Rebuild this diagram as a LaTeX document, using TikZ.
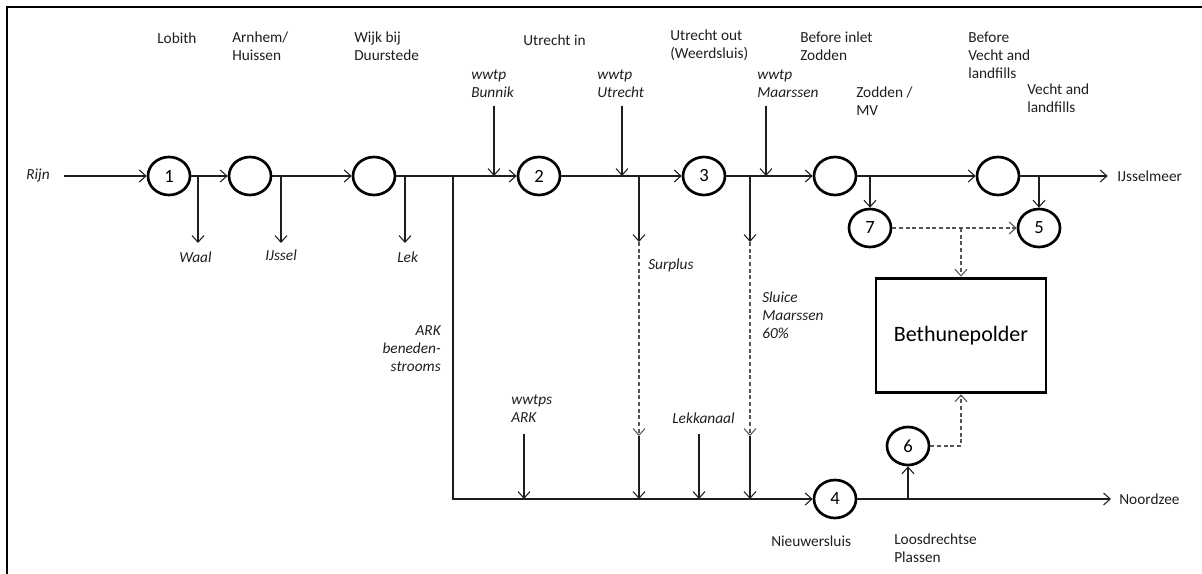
\documentclass[tikz,border=0pt]{standalone}
\usepackage{fontspec}
\setmainfont{Carlito}
\usetikzlibrary{arrows.meta,positioning,shapes.geometric}
\definecolor{inkgray}{RGB}{30,30,30}
\definecolor{dashgray}{RGB}{85,85,85}
\tikzset{
  station/.style={draw,ellipse,line width=2pt,minimum width=31.5pt,minimum height=28.5pt,
    inner sep=0pt,font=\fontsize{14}{16}\selectfont},
  polder/.style={draw,line width=2.2pt,minimum width=127.5pt,minimum height=86pt,
    inner sep=0pt,font=\fontsize{16.5}{19}\selectfont},
  lbl/.style={align=left,anchor=north west,inner sep=0pt,text=inkgray,
    font=\fontsize{11.5}{13.5}\selectfont},
  ilbl/.style={lbl,font=\fontsize{11.5}{13.5}\selectfont\itshape},
  flow/.style={-{Straight Barb[length=5pt,width=9pt]},line width=0.8pt,inkgray},
  seep/.style={flow,dash pattern=on 3pt off 2pt,dashgray},
  frame/.style={line width=2pt}
}

\begin{document}
\begin{tikzpicture}[x=0.75pt,y=-0.75pt]
  \useasboundingbox (0,0) rectangle (1202,574);
  \draw[frame] (7,574) -- (7,7) -- (1202,7);

  % stations on the main river
  \node[station] (lobith) at (169,176) {1};
  \node[station] (arnhem) at (250,176) {};
  \node[station] (wijk) at (374,176) {};
  \node[station] (utrin) at (539,176) {2};
  \node[station] (utrout) at (704,176) {3};
  \node[station] (zodden) at (835,176) {};
  \node[station] (vecht) at (998,176) {};
  \node[station] (seven) at (870,228) {7};
  \node[station] (five) at (1039,228) {5};
  \node[station] (nieuw) at (835,499) {4};
  \node[station] (six) at (908,446) {6};
  \node[polder] (bethune) at (961,335.5) {Bethunepolder};

  % location labels
  \node[lbl] at (157,33) {Lobith};
  \node[lbl] at (232,32) {Arnhem/\\Huissen};
  \node[lbl] at (354,32) {Wijk bij\\Duurstede};
  \node[lbl] at (523,35) {Utrecht in};
  \node[lbl] at (670,30) {Utrecht out\\(Weerdsluis)};
  \node[lbl] at (800,32) {Before inlet\\Zodden};
  \node[lbl] at (968,32) {Before\\Vecht and\\landfills};
  \node[lbl] at (856,87) {Zodden /\\MV};
  \node[lbl] at (1027,84) {Vecht and\\landfills};
  \node[lbl] at (771,536) {Nieuwersluis};
  \node[lbl] at (894,534) {Loosdrechtse\\Plassen};

  % in- and outflows
  \node[ilbl,anchor=east] (rijn) at (50,176) {Rijn};
  \node[lbl,anchor=west] (ijmeer) at (1117,176) {IJsselmeer};
  \node[lbl,anchor=west] (noordzee) at (1119,499) {Noordzee};
  \node[ilbl] at (179,252) {Waal};
  \node[ilbl] at (265,250) {IJssel};
  \node[ilbl] at (397,252) {Lek};
  \node[ilbl] at (471,70) {wwtp\\Bunnik};
  \node[ilbl] at (597,70) {wwtp\\Utrecht};
  \node[ilbl] at (757,70) {wwtp\\Maarssen};
  \node[ilbl] at (648,259) {Surplus};
  \node[ilbl] at (762,292) {Sluice\\Maarssen\\60\%};
  \node[ilbl,align=right,anchor=north east] at (441,325) {ARK\\beneden-\\strooms};
  \node[ilbl] at (511,395) {wwtps\\ARK};
  \node[ilbl] at (672,413) {Lekkanaal};

  % branch points
  \coordinate (jwaal) at (198,176);
  \coordinate (ewaal) at (198,243);
  \coordinate (jijssel) at (281,176);
  \coordinate (eijssel) at (281,243);
  \coordinate (jlek) at (405,176);
  \coordinate (elek) at (405,243);
  \coordinate (jark) at (453,176);
  \coordinate (wbun) at (494,106);
  \coordinate (jbun) at (494,176);
  \coordinate (wutr) at (622,106);
  \coordinate (jutr) at (622,176);
  \coordinate (wmaa) at (766,106);
  \coordinate (jmaa) at (766,176);
  \coordinate (jsur) at (639,176);
  \coordinate (sur1) at (639,242);
  \coordinate (sur2) at (639,436);
  \coordinate (sur3) at (639,499);
  \coordinate (jslu) at (750,176);
  \coordinate (slu1) at (750,242);
  \coordinate (slu2) at (750,436);
  \coordinate (slu3) at (750,499);
  \coordinate (warkw) at (524,434);
  \coordinate (jarkw) at (524,499);
  \coordinate (wlek) at (699,434);
  \coordinate (jlekk) at (699,499);
  \coordinate (j7) at (870,176);
  \coordinate (j5) at (1039,176);
  \coordinate (j6) at (908,499);
  \coordinate (jpol) at (961,228);

  % main river
  \draw[flow,shorten <=10.5pt] (rijn) -- (lobith);
  \draw[flow] (lobith) -- (arnhem);
  \draw[flow] (arnhem) -- (wijk);
  \draw[flow] (wijk) -- (utrin);
  \draw[flow] (utrin) -- (utrout);
  \draw[flow] (utrout) -- (zodden);
  \draw[flow] (zodden) -- (vecht);
  \draw[flow,shorten >=7pt] (vecht) -- (ijmeer);
  \draw[flow] (jark) |- (nieuw);
  \draw[flow,shorten >=6pt] (nieuw) -- (noordzee);

  \draw[flow] (jwaal) -- (ewaal);
  \draw[flow] (jijssel) -- (eijssel);
  \draw[flow] (jlek) -- (elek);
  \draw[flow] (wbun) -- (jbun);
  \draw[flow] (wutr) -- (jutr);
  \draw[flow] (wmaa) -- (jmaa);
  \draw[flow] (jsur) -- (sur1);
  \draw[seep] (sur1) -- (sur2);
  \draw[flow] (sur2) -- (sur3);
  \draw[flow] (jslu) -- (slu1);
  \draw[seep] (slu1) -- (slu2);
  \draw[flow] (slu2) -- (slu3);
  \draw[flow] (warkw) -- (jarkw);
  \draw[flow] (wlek) -- (jlekk);

  % polder
  \draw[flow] (j7) -- (seven);
  \draw[flow] (j5) -- (five);
  \draw[flow] (j6) -- (six);
  \draw[seep] (seven) -- (five);
  \draw[seep] (jpol) -- (bethune);
  \draw[seep] (six) -| (bethune);
\end{tikzpicture}
\end{document}
